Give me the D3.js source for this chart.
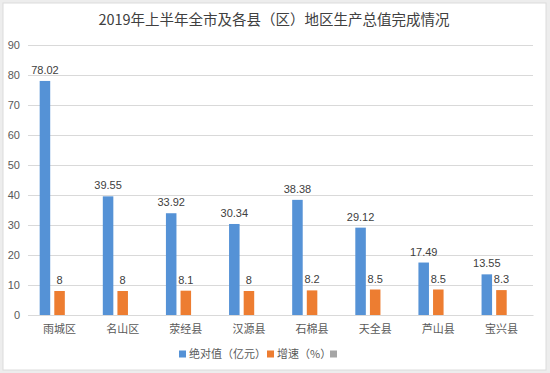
<!DOCTYPE html>
<html>
<head>
<meta charset="utf-8">
<script src="https://cdn.jsdelivr.net/npm/d3@7"></script>
<style>
  body { margin: 0; background: #ededed; }
  svg { display: block; }
</style>
</head>
<body>
<div id="chart"></div>
<script>
const categories = ["雨城区", "名山区", "荥经县", "汉源县", "石棉县", "天全县", "芦山县", "宝兴县"];
const absValues = [78.02, 39.55, 33.92, 30.34, 38.38, 29.12, 17.49, 13.55];
const growthValues = [8, 8, 8.1, 8, 8.2, 8.5, 8.5, 8.3];
const seriesNames = ["绝对值（亿元）", "增速（%）", ""];
const yTicks = [0, 10, 20, 30, 40, 50, 60, 70, 80, 90];
const title = "2019年上半年全市及各县（区）地区生产总值完成情况";

const colors = ["#5592d6", "#ed7d31", "#a5a5a5"];
const series = [absValues, growthValues, categories.map(() => null)];

const W = 550, H = 373;
const margin = {top: 45, right: 17, bottom: 58, left: 28};
const width = W - margin.left - margin.right,
      height = H - margin.top - margin.bottom;

const root = d3.select("#chart")
  .append("svg")
    .attr("width", W)
    .attr("height", H);

// white panel
root.append("rect")
  .attr("x", 3).attr("y", 3)
  .attr("width", 543).attr("height", 367)
  .attr("fill", "#fff")
  .attr("stroke", "#dcdcdc");

root.append("text")
  .attr("x", 274).attr("y", 25)
  .attr("text-anchor", "middle")
  .attr("font-family", "'Noto Sans CJK SC', sans-serif")
  .attr("font-size", 14.5)
  .attr("fill", "#404040")
  .text(title);

const svg = root.append("g")
  .attr("transform", `translate(${margin.left},${margin.top})`);

// scales
const x0 = d3.scaleBand()
  .domain(categories)
  .range([0, width])
  .paddingInner(0.37)
  .paddingOuter(0.185);

const x1 = d3.scaleBand()
  .domain(d3.range(series.length))
  .range([0, x0.bandwidth()])
  .paddingInner(0.28);

const y = d3.scaleLinear()
  .domain([0, 90])
  .range([height, 0]);

// y axis with gridlines
const yAxis = svg.append("g")
  .call(d3.axisLeft(y).tickValues(yTicks).tickSize(-width).tickPadding(8));
yAxis.select(".domain").remove();
yAxis.selectAll(".tick line").attr("stroke", "#d9d9d9");
yAxis.selectAll(".tick text")
  .attr("font-family", "'Liberation Sans', Arial, sans-serif")
  .attr("font-size", 11)
  .attr("fill", "#595959");

// x axis
const xAxis = svg.append("g")
  .attr("transform", `translate(0,${height})`)
  .call(d3.axisBottom(x0).tickSize(0).tickPadding(10));
xAxis.select(".domain").attr("stroke", "#d9d9d9");
xAxis.selectAll(".tick text")
  .attr("font-family", "'Noto Sans CJK SC', sans-serif")
  .attr("font-size", 11)
  .attr("fill", "#595959");

// bars
const groups = svg.selectAll(".grp")
  .data(categories)
  .join("g")
    .attr("class", "grp")
    .attr("transform", d => `translate(${x0(d)},0)`);

series.forEach((vals, s) => {
  groups.filter((d, i) => vals[i] != null)
    .append("rect")
      .attr("x", x1(s))
      .attr("width", x1.bandwidth())
      .attr("y", (d, i) => y(vals[categories.indexOf(d)]))
      .attr("height", d => height - y(vals[categories.indexOf(d)]))
      .attr("fill", colors[s]);

  groups.filter((d, i) => vals[i] != null)
    .append("text")
      .attr("x", x1(s) + x1.bandwidth() / 2)
      .attr("y", d => y(vals[categories.indexOf(d)]) - 7)
      .attr("text-anchor", "middle")
      .attr("font-family", "'Liberation Sans', Arial, sans-serif")
      .attr("font-size", 11)
      .attr("fill", "#404040")
      .text(d => vals[categories.indexOf(d)]);
});

// legend
const legendX = [179, 267, 330];
const legend = root.append("g").attr("transform", "translate(0,354)");
seriesNames.forEach((name, i) => {
  const g = legend.append("g").attr("transform", `translate(${legendX[i]},0)`);
  g.append("rect")
    .attr("x", 0).attr("y", -3.5)
    .attr("width", 7).attr("height", 7)
    .attr("fill", colors[i]);
  g.append("text")
    .attr("x", 10).attr("y", 4)
    .attr("font-family", "'Noto Sans CJK SC', sans-serif")
    .attr("font-size", 11)
    .attr("fill", "#595959")
    .text(name);
});
</script>
</body>
</html>
